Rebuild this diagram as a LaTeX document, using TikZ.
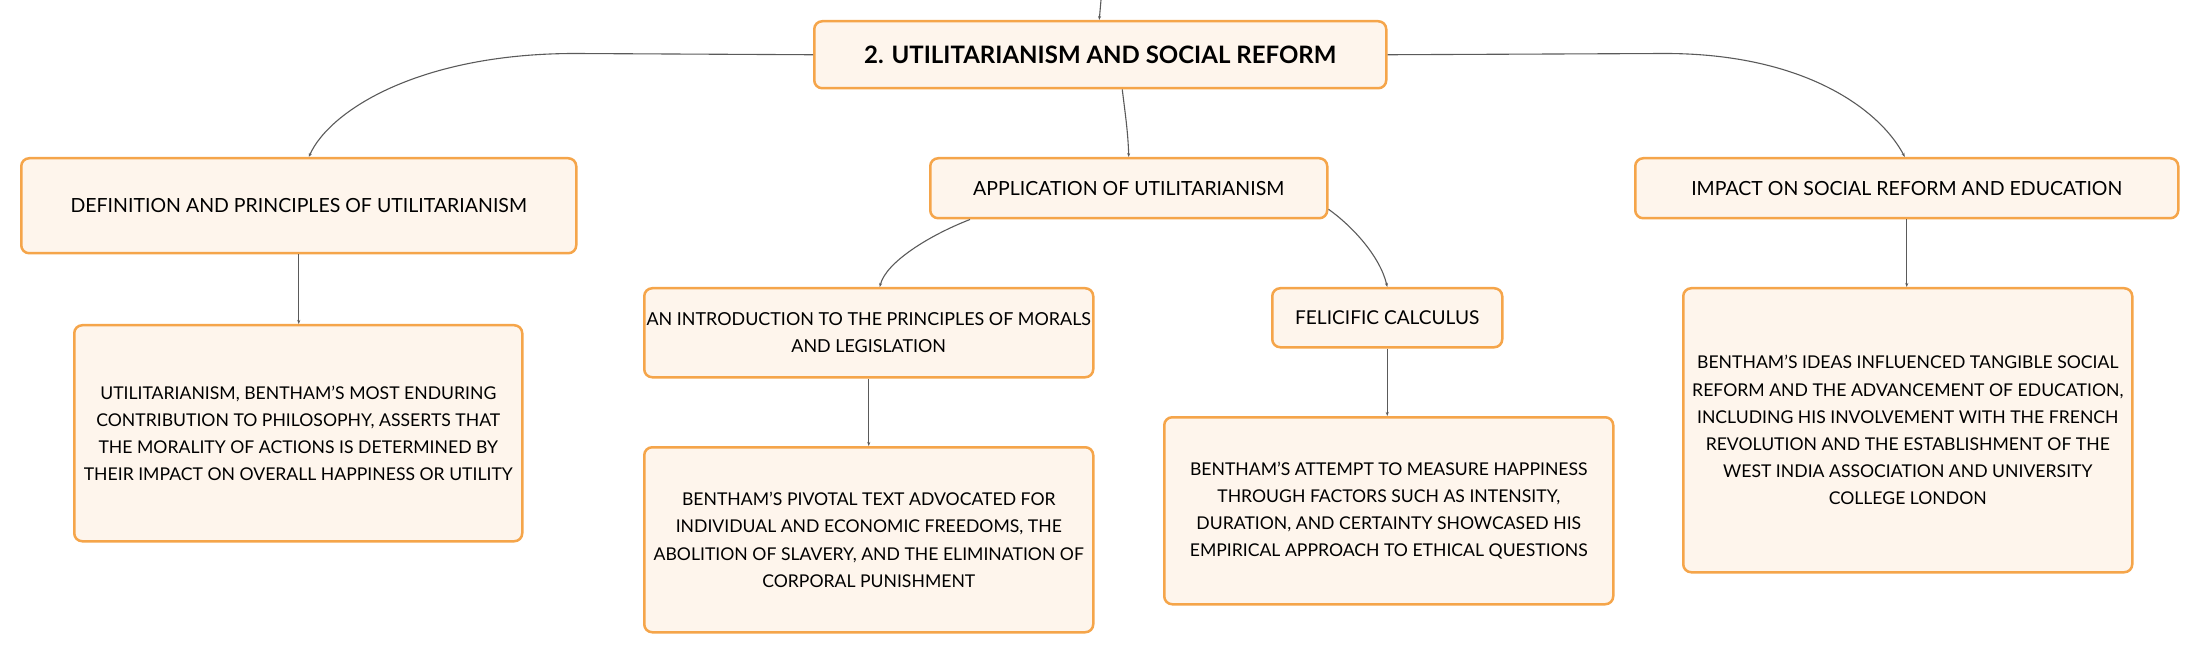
\documentclass[tikz,border=0pt]{standalone}
\usepackage{fontspec}
\setmainfont{Lato}
\usetikzlibrary{arrows.meta}
\definecolor{boxfill}{HTML}{FEF5EC}
\definecolor{boxdraw}{HTML}{F5A54A}
\definecolor{linkc}{HTML}{5A5A5A}
\begin{document}
\begin{tikzpicture}[x=1pt,y=-1pt,
  box/.style={draw=boxdraw, fill=boxfill, line width=2.5pt, rounded corners=8pt,
    anchor=north west, inner sep=0pt, align=center,
    font=\fontsize{19.5}{27.2}\selectfont, text=black},
  bodybox/.style={box, font=\fontsize{17.6}{27.2}\selectfont},
  link/.style={draw=linkc, line width=1.1pt, -{Stealth[length=4pt,width=3pt]}}]
\useasboundingbox (0,0) rectangle (2198,652);

\node[box, minimum width=572pt, minimum height=67pt, font=\fontsize{24}{28}\selectfont\bfseries] (title) at (813,20) {2. UTILITARIANISM AND SOCIAL REFORM};

\node[box, minimum width=555pt, minimum height=95pt] (def) at (20,157) {DEFINITION AND PRINCIPLES OF UTILITARIANISM};
\node[bodybox, minimum width=448pt, minimum height=216pt] (defc) at (73,324) {UTILITARIANISM, BENTHAM'S MOST ENDURING\\CONTRIBUTION TO PHILOSOPHY, ASSERTS THAT\\THE MORALITY OF ACTIONS IS DETERMINED BY\\THEIR IMPACT ON OVERALL HAPPINESS OR UTILITY};

\node[box, minimum width=397pt, minimum height=60pt] (app) at (929,157) {APPLICATION OF UTILITARIANISM};
\node[box, minimum width=449pt, minimum height=89pt, font=\fontsize{17.9}{27.6}\selectfont] (intro) at (643,287) {AN INTRODUCTION TO THE PRINCIPLES OF MORALS\\AND LEGISLATION};
\node[bodybox, minimum width=449pt, minimum height=185pt] (introc) at (643,446) {BENTHAM'S PIVOTAL TEXT ADVOCATED FOR\\INDIVIDUAL AND ECONOMIC FREEDOMS, THE\\ABOLITION OF SLAVERY, AND THE ELIMINATION OF\\CORPORAL PUNISHMENT};
\node[box, minimum width=230pt, minimum height=59pt, font=\fontsize{19.1}{27}\selectfont] (fel) at (1271,287) {FELICIFIC CALCULUS};
\node[bodybox, minimum width=449pt, minimum height=187pt] (felc) at (1163,416) {BENTHAM'S ATTEMPT TO MEASURE HAPPINESS\\THROUGH FACTORS SUCH AS INTENSITY,\\DURATION, AND CERTAINTY SHOWCASED HIS\\EMPIRICAL APPROACH TO ETHICAL QUESTIONS};

\node[box, minimum width=543pt, minimum height=60pt] (impact) at (1634,157) {IMPACT ON SOCIAL REFORM AND EDUCATION};
\node[bodybox, minimum width=449pt, minimum height=284pt] (impc) at (1682,287) {BENTHAM'S IDEAS INFLUENCED TANGIBLE SOCIAL\\REFORM AND THE ADVANCEMENT OF EDUCATION,\\INCLUDING HIS INVOLVEMENT WITH THE FRENCH\\REVOLUTION AND THE ESTABLISHMENT OF THE\\WEST INDIA ASSOCIATION AND UNIVERSITY\\COLLEGE LONDON};

\coordinate (top) at (1101,0);
\draw[link] (top) -- ([xshift=-1pt]title.north);

\draw[link] (title.west) -- (575,53.5) .. controls (420,53.5) and (330,110) .. ([xshift=10pt]def.north);
\draw[link] (title.east) -- (1665,53.5) .. controls (1805,53.5) and (1880,110) .. ([xshift=-2pt]impact.north);
\draw[link] ([xshift=22pt]title.south) .. controls (1125,112) and (1128,132) .. (app.north);

\draw[link] ([xshift=41pt]app.south west) .. controls (930,235) and (886,262) .. ([xshift=11pt]intro.north);
\draw[link] ([yshift=-21pt]app.east) .. controls (1352,226) and (1380,256) .. (fel.north);

\draw[link] (def.south) -- (def.south |- defc.north);
\draw[link] (intro.south) -- (intro.south |- introc.north);
\draw[link] (fel.south) -- (fel.south |- felc.north);
\draw[link] (impact.south) -- (impact.south |- impc.north);
\end{tikzpicture}
\end{document}
